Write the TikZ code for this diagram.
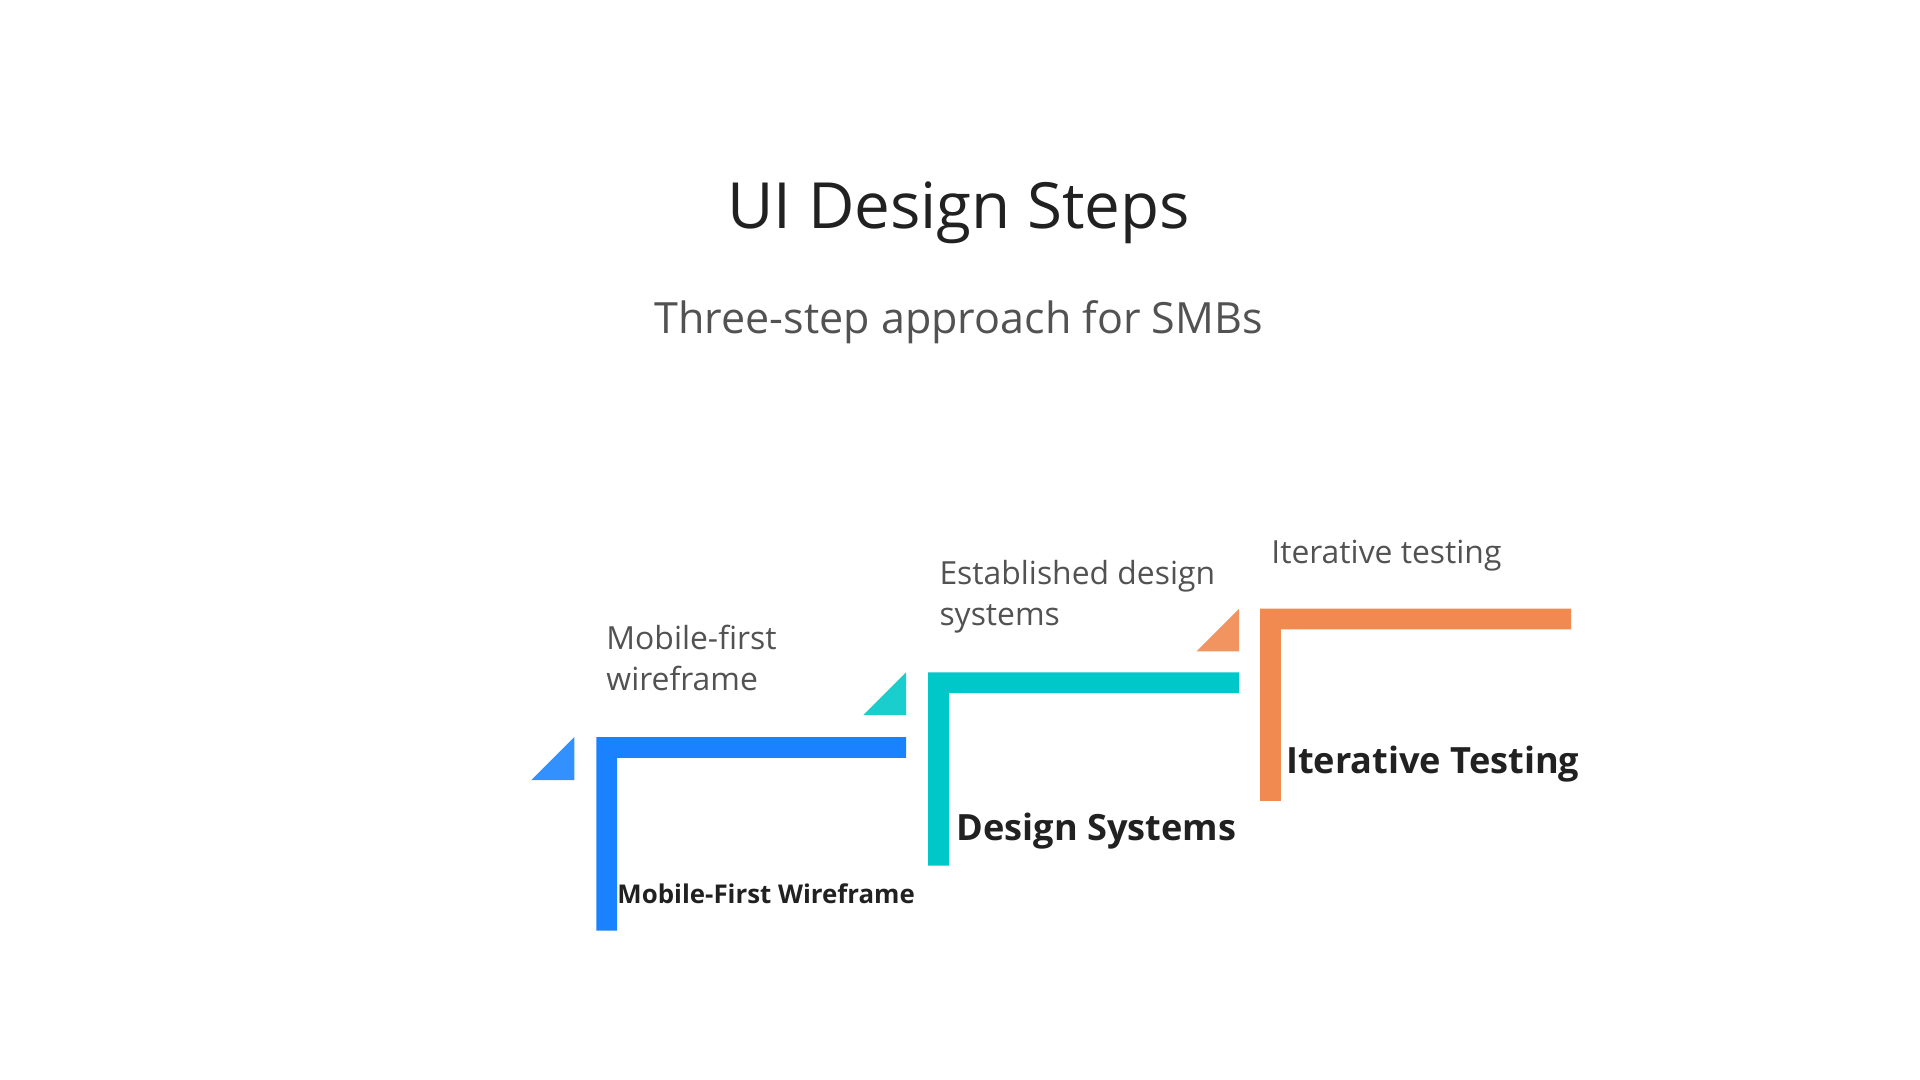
\documentclass[tikz,border=0pt]{standalone}
\usepackage{fontspec}
\setmainfont{Open Sans}
\usetikzlibrary{positioning}
\definecolor{stepblue}{HTML}{1A82FF}
\definecolor{stepbluelt}{HTML}{3390FF}
\definecolor{stepteal}{HTML}{00C8C8}
\definecolor{steptealt}{HTML}{1ACECE}
\definecolor{steporange}{HTML}{F08A50}
\definecolor{steporangelt}{HTML}{F29460}
\begin{document}
\begin{tikzpicture}[x=0.025cm,y=-0.025cm,
    note/.style={anchor=base west,inner sep=0pt,align=left,text=black!68,font=\fontsize{18.5}{24}\selectfont},
    step title/.style={anchor=base west,inner sep=0pt,text=black!87,font=\bfseries\fontsize{21}{24}\selectfont}]
  \useasboundingbox (0,0) rectangle (1568,882);

  \node[anchor=base,inner sep=0pt,text=black!87,font=\fontsize{37}{42}\selectfont] (title) at (783,187) {UI Design Steps};
  \node[anchor=base,inner sep=0pt,text=black!68,font=\fontsize{25}{30}\selectfont] (subtitle) at (783,272) {Three-step approach for SMBs};

  % step 1
  \fill[stepbluelt] (434,637) -- (469,637) -- (469,602) -- cycle;
  \fill[stepblue] (487,760) -- (487,602) -- (740,602) -- (740,619) -- (504,619) -- (504,760) -- cycle;
  \node[note] (note1) at (495,564) {Mobile-first\\wireframe};
  \node[step title,font=\bfseries\fontsize{15}{18}\selectfont] (step1) at (504,738) {Mobile-First Wireframe};

  % step 2
  \fill[steptealt] (705,584) -- (740,584) -- (740,549) -- cycle;
  \fill[stepteal] (758,707) -- (758,549) -- (1012,549) -- (1012,566) -- (775,566) -- (775,707) -- cycle;
  \node[note] (note2) at (767,511) {Established design\\systems};
  \node[step title] (step2) at (781,686) {Design Systems};

  % step 3
  \fill[steporangelt] (977,532) -- (1012,532) -- (1012,497) -- cycle;
  \fill[steporange] (1029,654) -- (1029,497) -- (1283,497) -- (1283,514) -- (1046,514) -- (1046,654) -- cycle;
  \node[note] (note3) at (1038,460) {Iterative testing};
  \node[step title] (step3) at (1050,632) {Iterative Testing};
\end{tikzpicture}
\end{document}
